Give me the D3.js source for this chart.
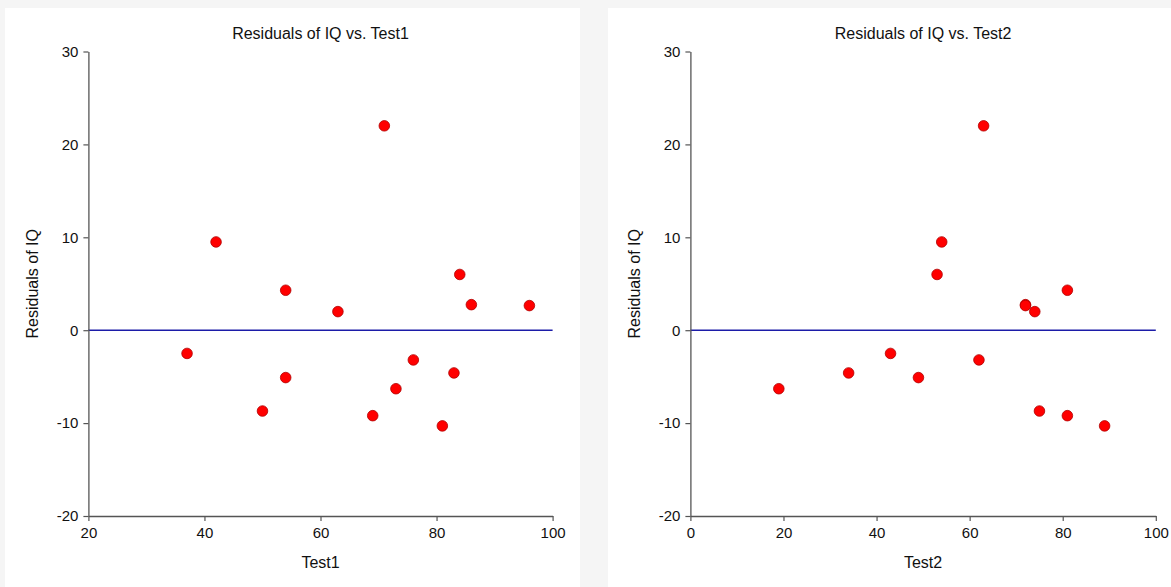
<!DOCTYPE html>
<html>
<head>
<meta charset="utf-8">
<script src="https://cdn.jsdelivr.net/npm/d3@7"></script>
<style>
  html, body { margin: 0; padding: 0; background: #f5f5f5; }
  svg { display: block; }
  text { font-family: Arial, "Liberation Sans", sans-serif; fill: #111; }
</style>
</head>
<body>
<svg id="chart" width="1171" height="587"></svg>
<script>
// ---- data ----
const residuals = [22.0, 9.5, 6.0, 4.3, 2.75, 2.65, 2.0, -2.5, -3.2, -4.6, -5.1, -6.3, -8.7, -9.2, -10.3];
const test1 =     [71,   42,  84,  54,  86,   96,   63,  37,   76,   83,   54,   73,   50,   69,   81];
const test2 =     [63,   54,  53,  81,  72,   72,   74,  43,   62,   34,   49,   19,   75,   81,   89];
const yTicks = [-20, -10, 0, 10, 20, 30];
const xTicks1 = [20, 40, 60, 80, 100];
const xTicks2 = [0, 20, 40, 60, 80, 100];
const yLabel = "Residuals of IQ";
const panels = [
  { title: "Residuals of IQ vs. Test1", xLabel: "Test1", xs: test1, xDomain: [20, 100], xTicks: xTicks1 },
  { title: "Residuals of IQ vs. Test2", xLabel: "Test2", xs: test2, xDomain: [0, 100], xTicks: xTicks2 }
];

// ---- layout ----
const svg = d3.select("#chart");
const layout = [
  { bg: [5, 8, 575, 590], plot: [88.4, 552.6] },
  { bg: [608, 8, 570, 590], plot: [690.4, 1155.8] }
];
const yTop = 51.5, yBot = 516;
const fmt = d => String(d);

panels.forEach((p, i) => {
  const L = layout[i];
  svg.append("rect").attr("x", L.bg[0]).attr("y", L.bg[1]).attr("width", L.bg[2]).attr("height", L.bg[3]).attr("fill", "#ffffff");

  const x = d3.scaleLinear().domain(p.xDomain).range(L.plot);
  const y = d3.scaleLinear().domain([-20, 30]).range([yBot, yTop]);
  const g = svg.append("g");

  // zero line
  g.append("line")
    .attr("x1", x(p.xDomain[0])).attr("x2", x(p.xDomain[1]))
    .attr("y1", y(0)).attr("y2", y(0))
    .attr("stroke", "#1c1ca8").attr("stroke-width", 1.4);

  // axes
  const xAxis = g.append("g").attr("transform", `translate(0,${yBot})`)
    .call(d3.axisBottom(x).tickValues(p.xTicks).tickFormat(fmt).tickSize(5).tickPadding(6).tickSizeOuter(0));
  const yAxis = g.append("g").attr("transform", `translate(${L.plot[0]},0)`)
    .call(d3.axisLeft(y).tickValues(yTicks).tickFormat(fmt).tickSize(5).tickPadding(5).tickSizeOuter(0));
  [xAxis, yAxis].forEach(a => {
    a.select(".domain").attr("stroke", "#555").attr("stroke-width", 1.3);
    a.selectAll(".tick line").attr("stroke", "#555").attr("stroke-width", 1.2);
    a.selectAll(".tick text").attr("fill", "#111").style("font-size", "15px").style("font-family", "Arial, 'Liberation Sans', sans-serif");
  });

  // points
  g.selectAll("circle.pt").data(residuals.map((r, k) => ({ x: p.xs[k], y: r })))
    .enter().append("circle").attr("class", "pt")
    .attr("cx", d => x(d.x)).attr("cy", d => y(d.y)).attr("r", 5.3)
    .attr("fill", "#ff0000").attr("stroke", "#b00000").attr("stroke-width", 0.8);

  const cx = (L.plot[0] + L.plot[1]) / 2;
  // title
  g.append("text").attr("x", cx).attr("y", 39).attr("text-anchor", "middle")
    .style("font-size", "16px").text(p.title);
  // x label
  g.append("text").attr("x", cx).attr("y", 568).attr("text-anchor", "middle")
    .style("font-size", "16px").text(p.xLabel);
  // y label
  g.append("text").attr("transform", `translate(${L.plot[0] - 50},${(yTop + yBot) / 2}) rotate(-90)`)
    .attr("text-anchor", "middle").style("font-size", "16px").text(yLabel);
});
</script>
</body>
</html>
